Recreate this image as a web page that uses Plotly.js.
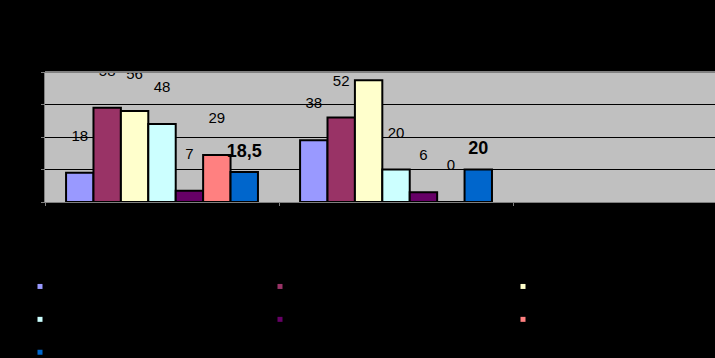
<!DOCTYPE html>
<html>
<head>
<meta charset="utf-8">
<script src="https://cdn.plot.ly/plotly-3.0.1.min.js"></script>
<style>html,body{margin:0;padding:0;background:#000;}#chart{width:715px;height:358px;}</style>
</head>
<body>
<div id="chart"></div>
<script>
// Data
const categories = ["Группа 1", "Группа 2", "Группа 3"];
const seriesNames = ["Ряд 1", "Ряд 2", "Ряд 3", "Ряд 4", "Ряд 5", "Ряд 6", "Ряд 7"];
const s1 = [18, 38, null];
const s2 = [58, 52, null];
const s3 = [56, 75, null];
const s4 = [48, 20, null];
const s5 = [7, 6, null];
const s6 = [29, 0, null];
const s7 = [18.5, 20, null];
const seriesValues = [s1, s2, s3, s4, s5, s6, s7];
const colors = ["#9999FF", "#993366", "#FFFFCC", "#CCFFFF", "#660066", "#FF8080", "#0066CC"];
const yTicks = [0, 20, 40, 60, 80];
// legend columns (row-wise order of the original legend)
const legendOf = ["legend", "legend2", "legend3", "legend", "legend2", "legend3", "legend"];

const fmt = v => (v === null ? "" : String(v).replace(".", ","));

const traces = [];
seriesValues.forEach((vals, i) => {
  traces.push({
    type: "bar", x: categories, y: vals, name: seriesNames[i],
    offsetgroup: "g" + i, showlegend: false, hoverinfo: "skip",
    marker: {color: colors[i], line: {color: "#000", width: 2}}
  });
});
// data labels (raised above bars, as in the original)
seriesValues.forEach((vals, i) => {
  const bold = i === 6;
  traces.push({
    type: "bar", x: categories, y: vals, base: bold ? 5 : 16,
    offsetgroup: "g" + i, showlegend: false, hoverinfo: "skip",
    marker: {color: "rgba(0,0,0,0)", line: {width: 0}},
    text: vals.map(fmt), texttemplate: "%{text}", textposition: "outside", constraintext: "none",
    cliponaxis: true,
    outsidetextfont: {family: "Liberation Sans, Arial, sans-serif", size: bold ? 18 : 15, color: "#000", weight: bold ? "bold" : "normal"}
  });
});
// legend entries
seriesValues.forEach((vals, i) => {
  traces.push({
    type: "scatter", mode: "markers", x: [null], y: [null], name: seriesNames[i],
    legend: legendOf[i],
    marker: {symbol: "square", size: 5, color: colors[i]}, hoverinfo: "skip"
  });
});

const legendBase = {
  orientation: "v", xref: "container", yref: "container",
  y: 1 - 265 / 358, xanchor: "left", yanchor: "top",
  font: {color: "#000", size: 23}, bgcolor: "rgba(0,0,0,0)", borderwidth: 0,
  itemsizing: "trace"
};

const layout = {
  width: 715, height: 358,
  paper_bgcolor: "#000", plot_bgcolor: "#C0C0C0",
  margin: {l: 45, r: 0, t: 72, b: 156, autoexpand: false},
  barmode: "group", bargap: 0.18, bargroupgap: 0,
  separators: ", ",
  showlegend: true,
  font: {family: "Liberation Sans, Arial, sans-serif", color: "#000"},
  xaxis: {
    type: "category", categoryarray: categories, range: [-0.5, 2.363],
    showgrid: false, showline: true, linecolor: "#808080", linewidth: 1, mirror: false,
    ticks: "outside", tickson: "boundaries", ticklen: 3, tickcolor: "#808080",
    tickfont: {color: "#000", size: 12}, zeroline: false, fixedrange: true
  },
  yaxis: {
    range: [0, 80], tickvals: yTicks, showgrid: true, gridcolor: "#000", gridwidth: 1,
    showline: true, linecolor: "#808080", linewidth: 1,
    ticks: "outside", ticklen: 3, tickcolor: "#808080",
    tickfont: {color: "#000", size: 12}, zeroline: false, fixedrange: true
  },
  shapes: [{type: "line", xref: "paper", yref: "paper", x0: 0, x1: 1, y0: 1, y1: 1, line: {color: "#808080", width: 2}}],
  legend: Object.assign({}, legendBase, {x: 20 / 715}),
  legend2: Object.assign({}, legendBase, {x: 260 / 715}),
  legend3: Object.assign({}, legendBase, {x: 503 / 715})
};

Plotly.newPlot("chart", traces, layout, {displayModeBar: false, staticPlot: true});
</script>
</body>
</html>
